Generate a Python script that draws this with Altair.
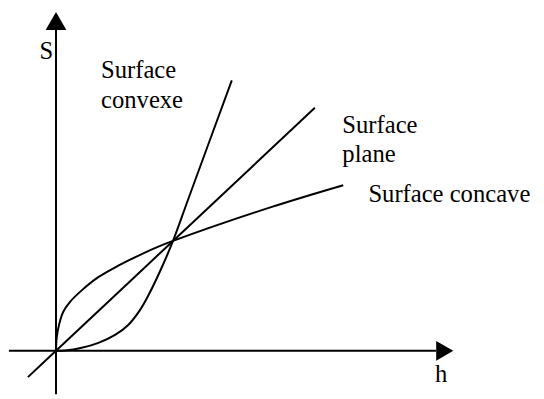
import altair as alt
import pandas as pd

# Curves (h, S); units: intersection point at (4, 4)
plane_h = [-0.96, 0, 4, 8.85]
plane_s = [-0.96, 0, 4, 8.85]
concave_h = [0, 0.024, 0.103, 0.25, 0.479, 0.879, 1.446, 2.13, 2.93, 3.50, 4, 7.38, 9.82]
concave_s = [0, 0.466, 0.943, 1.42, 1.78, 2.20, 2.68, 3.10, 3.52, 3.79, 4, 5.24, 6.03]
convex_h = [0, 0.31, 0.88, 1.45, 2.02, 2.47, 2.87, 3.16, 3.58, 4, 4.51, 6.01]
convex_s = [0, 0.01, 0.11, 0.29, 0.58, 0.94, 1.48, 2.02, 2.95, 4, 5.49, 9.85]

# Axis extents
h_axis_range = [-1.61, 12.99]
s_axis_range = [-1.58, 11.69]
arrow_up = (0, 12.01)
arrow_right = (13.29, 0)

# Labels
label_texts = ["S", "Surface\nconvexe", "Surface\nplane", "Surface concave", "h"]
label_h = [-0.56, 1.54, 9.79, 10.68, 12.96]
label_s = [10.62, 9.92, 7.94, 5.42, -1.15]

X_DOMAIN = [-1.641, 16.41]
Y_DOMAIN = [-1.65, 12.377]

xs = alt.Scale(domain=X_DOMAIN, nice=False, zero=False)
ys = alt.Scale(domain=Y_DOMAIN, nice=False, zero=False)

rows = []
for name, hh, ss in [("plane", plane_h, plane_s), ("concave", concave_h, concave_s), ("convex", convex_h, convex_s)]:
    for i, (a, b) in enumerate(zip(hh, ss)):
        rows.append({"series": name, "h": a, "S": b, "i": i})
curves_df = pd.DataFrame(rows)

curves = alt.Chart(curves_df).mark_line(color="black", strokeWidth=2, interpolate="catmull-rom").encode(
    x=alt.X("h:Q", scale=xs, axis=None),
    y=alt.Y("S:Q", scale=ys, axis=None),
    detail="series:N",
    order="i:Q",
)

haxis = alt.Chart(pd.DataFrame({"h1": [h_axis_range[0]], "h2": [h_axis_range[1]], "S": [0]})).mark_rule(
    color="black", strokeWidth=2
).encode(x=alt.X("h1:Q", scale=xs, axis=None), x2="h2:Q", y=alt.Y("S:Q", scale=ys, axis=None))

vaxis = alt.Chart(pd.DataFrame({"s1": [s_axis_range[0]], "s2": [s_axis_range[1]], "h": [0]})).mark_rule(
    color="black", strokeWidth=2
).encode(y=alt.Y("s1:Q", scale=ys, axis=None), y2="s2:Q", x=alt.X("h:Q", scale=xs, axis=None))

up = alt.Chart(pd.DataFrame({"h": [arrow_up[0]], "S": [arrow_up[1]]})).mark_point(
    shape="triangle-up", filled=True, size=441, color="black", opacity=1, strokeWidth=0
).encode(x=alt.X("h:Q", scale=xs, axis=None), y=alt.Y("S:Q", scale=ys, axis=None))

right = alt.Chart(pd.DataFrame({"h": [arrow_right[0]], "S": [arrow_right[1]]})).mark_point(
    shape="triangle-right", filled=True, size=400, color="black", opacity=1, strokeWidth=0
).encode(x=alt.X("h:Q", scale=xs, axis=None), y=alt.Y("S:Q", scale=ys, axis=None))

labels = alt.Chart(pd.DataFrame({"t": label_texts, "h": label_h, "S": label_s})).mark_text(
    font="Liberation Serif", fontSize=25, align="left", baseline="alphabetic",
    lineBreak="\n", lineHeight=30, color="black"
).encode(x=alt.X("h:Q", scale=xs, axis=None), y=alt.Y("S:Q", scale=ys, axis=None), text="t:N")

chart = alt.layer(haxis, vaxis, curves, up, right, labels).properties(
    width=536, height=391, padding=0, autosize="none", background="white"
).configure_view(stroke=None)

chart.save("out.html", embed_options={"renderer": "svg", "actions": False})
